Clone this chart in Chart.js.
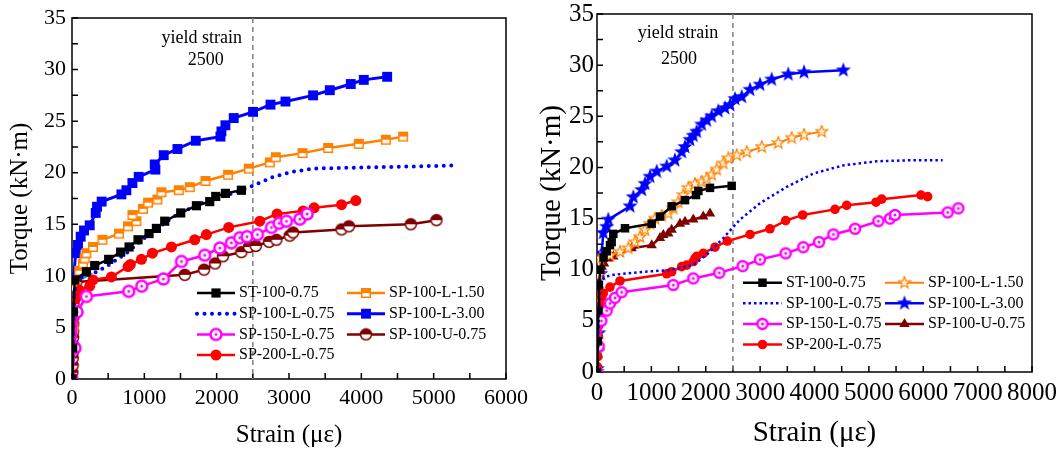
<!DOCTYPE html>
<html>
<head>
<meta charset="utf-8">
<script src="https://cdn.jsdelivr.net/npm/chart.js@4.4.1/dist/chart.umd.min.js"></script>
<style>
  html, body { margin: 0; padding: 0; background: #fff; }
  #wrap { position: relative; width: 1056px; height: 449px; overflow: hidden; }
  canvas { position: absolute; top: 0; }
  #left { left: 0; }
  #right { left: 528px; }
</style>
</head>
<body>
<div id="wrap">
  <canvas id="left" width="528" height="449"></canvas>
  <canvas id="right" width="528" height="449"></canvas>
</div>
<script>
// Torque vs strain, two panels. [strain, torque].

const YIELD_STRAIN = 2500;
const Y_MAX = 35;
const LEFT_X_MAX = 6000;
const RIGHT_X_MAX = 8000;

// ---- left panel ----
const L_ST_100_075 = [[0,0],[10,3],[20,6.5],[37,9.6],[199,10.4],[314,11.0],[507,11.6],[673,12.3],[789,12.8],[913,13.5],[1065,14.1],[1167,14.6],[1282,15.3],[1503,16.1],[1720,16.8],[1904,17.2],[1987,17.7],[2121,18.0],[2342,18.3]];
const L_SP_100_L_075 = [[0,0],[15,4],[30,8],[60,9.6],[150,9.9],[290,10.2],[476,10.9],[752,12.2],[1074,14.1],[1397,15.7],[1766,17.0],[2135,17.8],[2458,18.6],[2780,19.6],[3056,20.1],[3333,20.4],[3979,20.5],[4670,20.6],[5316,20.7]];
const L_SP_150_L_075 = [[0,0],[40,3],[70,6.5],[199,8.0],[784,8.5],[964,9.0],[1264,9.7],[1513,11.4],[1835,12.0],[2043,12.7],[2204,13.2],[2319,13.7],[2420,13.8],[2564,14.0],[2758,14.7],[2863,15.1],[2965,15.3],[3149,15.5],[3250,16.0]];
const L_SP_200_L_075 = [[0,0],[15,3],[30,6],[50,7.8],[106,8.6],[245,9.0],[290,9.6],[545,9.9],[775,10.9],[807,11.1],[960,11.6],[1112,12.2],[1375,12.8],[1697,13.5],[1858,14.0],[2167,14.7],[2596,15.3],[2835,16.0],[3195,16.3],[3347,16.6],[3726,16.9],[3924,17.3]];
const L_SP_100_L_150 = [[0,0],[20,5],[40,9],[100,10.5],[152,11.2],[176,11.7],[199,12.2],[290,12.8],[420,13.5],[650,14.1],[775,14.8],[890,15.3],[835,15.9],[982,16.5],[1051,17.1],[1181,17.4],[1236,18.1],[1476,18.3],[1628,18.6],[1845,19.2],[2158,19.8],[2444,20.4],[2734,21.0],[2817,21.5],[3187,21.9],[3541,22.4],[3965,22.8],[4339,23.2],[4578,23.5]];
const L_SP_100_L_300 = [[0,0],[8,3],[15,6],[23,9.9],[51,12.2],[83,13.0],[120,13.8],[166,14.4],[245,14.9],[328,16.1],[346,16.7],[410,17.2],[683,17.9],[752,18.3],[835,19.0],[922,19.6],[1153,20.3],[1144,20.8],[1268,21.7],[1458,22.3],[1711,23.1],[2052,23.5],[2066,24.0],[2121,24.6],[2236,25.3],[2503,25.9],[2744,26.6],[2951,26.9],[3333,27.5],[3564,28.0],[3854,28.6],[4034,29.0],[4357,29.3]];
const L_SP_100_U_075 = [[0,0],[5,0.6],[8,1.3],[10,2],[12,2.6],[14,3.3],[15,4],[16,4.6],[17,5.3],[18,6],[19,6.6],[20,7.3],[22,8],[24,8.6],[26,9.2],[60,9.4],[1559,10.1],[1826,10.6],[1978,11.2],[2088,11.9],[2342,12.3],[2448,12.8],[2541,12.9],[2725,13.3],[2826,13.5],[3010,13.9],[3056,14.2],[3726,14.5],[3827,14.8],[4684,15.0],[5039,15.4]];
const L_UNLABELLED = [[0,0],[10,2],[18,4.5],[25,7],[40,9.3],[199,10.2]];

// ---- right panel ----
const R_ST_100_075 = [[0,0],[15,3],[25,6],[35,8.5],[60,10],[120,11.2],[178,11.8],[239,12.4],[270,12.7],[300,13.5],[515,14.05],[1006,14.5],[1159,15.2],[1373,16.2],[1618,16.8],[1821,17.3],[1864,17.7],[2078,18.0],[2477,18.2]];
const R_SP_100_L_075 = [[0,0],[20,3],[40,6.5],[55,8.7],[147,9.3],[300,9.5],[852,9.8],[1343,9.96],[1771,10.45],[2047,11.6],[2323,13.1],[2630,14.9],[2998,16.5],[3489,18.1],[3978,19.4],[4530,20.2],[5144,20.6],[5756,20.7],[6357,20.7]];
const R_SP_150_L_075 = [[0,0],[30,2.5],[80,5],[178,6.0],[239,6.7],[331,7.25],[454,7.8],[1403,8.5],[1771,9.15],[2249,9.7],[2679,10.35],[2998,11.0],[3470,11.6],[3794,12.2],[4083,12.7],[4346,13.45],[4745,14.0],[5174,14.75],[5388,15.0],[5480,15.35],[6449,15.6],[6645,16.0]];
const R_SP_200_L_075 = [[0,0],[10,0.5],[15,1.5],[20,2.5],[25,3.5],[30,4.5],[40,5.5],[55,6.5],[80,7.3],[116,7.7],[239,8.3],[423,8.9],[1282,9.6],[1373,9.8],[1557,10.3],[1649,10.45],[1771,10.8],[1802,11.1],[1833,11.3],[1955,11.6],[2170,12.2],[2396,12.8],[2814,13.45],[3181,14.0],[3470,14.8],[3783,15.35],[4377,15.9],[4592,16.3],[5131,16.6],[5236,16.9],[5958,17.3],[6081,17.15]];
const R_SP_100_L_150 = [[0,0],[10,2],[20,4.5],[30,7],[40,9.5],[55,11.1],[239,11.4],[423,11.75],[576,12.1],[699,12.7],[791,13.2],[883,13.9],[975,14.5],[1067,15.0],[1190,15.3],[1311,15.5],[1403,16.0],[1495,16.6],[1587,17.3],[1679,18.0],[1802,18.4],[1925,18.6],[2017,18.9],[2109,19.3],[2201,19.8],[2323,20.4],[2415,20.9],[2569,21.2],[2753,21.5],[3029,22.0],[3334,22.4],[3580,22.9],[3807,23.2],[4132,23.5]];
const R_SP_100_L_300 = [[0,0],[5,0.3],[15,2],[30,3.8],[45,5.5],[55,7.0],[68,9.6],[86,11.6],[116,13.6],[178,14.2],[208,14.9],[607,16.2],[668,17.1],[822,17.8],[883,18.4],[975,19.1],[1098,19.6],[1282,20.1],[1434,20.7],[1558,21.5],[1618,22.0],[1710,22.7],[1771,23.1],[1833,23.5],[1925,24.2],[2017,24.6],[2109,25.0],[2231,25.5],[2354,25.8],[2446,26.1],[2538,26.7],[2661,26.9],[2814,27.6],[2998,28.1],[3212,28.6],[3518,29.1],[3807,29.3],[4530,29.5]];
const R_SP_100_U_075 = [[0,0],[10,3],[20,6],[30,8.5],[45,9.6],[86,10.3],[130,10.6],[208,11.1],[300,11.3],[638,12.1],[1006,12.4],[1159,13.1],[1220,13.4],[1311,13.55],[1373,13.9],[1526,14.5],[1618,14.7],[1771,14.9],[1955,15.2],[2078,15.5]];

const BLACK = '#000000', BLUE = '#0000ff', MAGENTA = '#ff00ff', RED = '#ff0000',
      ORANGE = '#ff8000', MAROON = '#800000', CYAN = '#1aa8c0';
const SERIF = '"Liberation Serif", "Times New Roman", serif';

const pts = arr => arr.map(([x, y]) => ({ x, y }));

// Small canvases used as point styles for the markers Chart.js lacks.
function marker(size, draw) {
  const c = document.createElement('canvas');
  c.width = size; c.height = size;
  draw(c.getContext('2d'), size / 2);
  return c;
}
function starPath(g, c, R, r) {
  g.beginPath();
  for (let i = 0; i < 10; i++) {
    const a = -Math.PI / 2 + i * Math.PI / 5;
    const d = i % 2 ? r : R;
    g.lineTo(c + d * Math.cos(a), c + d * Math.sin(a));
  }
  g.closePath();
}
const halfSquare = marker(12, (g) => {
  g.fillStyle = '#fff'; g.fillRect(1, 1, 10, 10);
  g.fillStyle = ORANGE; g.fillRect(1, 1, 10, 5);
  g.strokeStyle = ORANGE; g.lineWidth = 1.5; g.strokeRect(1.75, 1.75, 8.5, 8.5);
});
const halfCircle = marker(14, (g, c) => {
  g.beginPath(); g.arc(c, c, 5.5, 0, Math.PI * 2); g.fillStyle = '#fff'; g.fill();
  g.beginPath(); g.arc(c, c, 5.5, Math.PI, Math.PI * 2); g.fillStyle = MAROON; g.fill();
  g.beginPath(); g.arc(c, c, 5.5, 0, Math.PI * 2); g.strokeStyle = MAROON; g.lineWidth = 1.5; g.stroke();
});
const dotCircle = (R) => marker(16, (g, c) => {
  g.beginPath(); g.arc(c, c, R, 0, Math.PI * 2); g.fillStyle = '#fff'; g.fill();
  g.strokeStyle = MAGENTA; g.lineWidth = 2.5; g.stroke();
  g.beginPath(); g.arc(c, c, 1.5, 0, Math.PI * 2); g.fillStyle = MAGENTA; g.fill();
});
const blueStar = marker(18, (g, c) => {
  starPath(g, c, 8, 3.3); g.fillStyle = BLUE; g.fill();
});
const openStar = marker(14, (g, c) => {
  starPath(g, c, 6.2, 2.6); g.fillStyle = '#fff3dc'; g.fill();
  g.strokeStyle = ORANGE; g.lineWidth = 1.2; g.stroke();
});

// Dashed yield-strain line with its note.
const yieldLine = {
  id: 'yieldLine',
  beforeDatasetsDraw(chart, args, o) {
    const { ctx, chartArea: a, scales: { x } } = chart;
    const px = x.getPixelForValue(o.value);
    ctx.save();
    ctx.strokeStyle = '#808080'; ctx.lineWidth = 1.5; ctx.setLineDash([5, 4]);
    ctx.beginPath(); ctx.moveTo(px, a.top); ctx.lineTo(px, a.bottom); ctx.stroke();
    ctx.setLineDash([]);
    ctx.fillStyle = '#000'; ctx.font = o.font;
    ctx.textAlign = 'center'; ctx.textBaseline = 'middle';
    ctx.fillText('yield strain', px + o.dx1, a.top + o.dy1);
    ctx.fillText(String(o.value), px + o.dx2, a.top + o.dy2);
    ctx.restore();
  }
};

// Box round the plot plus inward major/minor ticks.
const frame = {
  id: 'frame',
  beforeDatasetsDraw(chart, args, o) {
    const { ctx, chartArea: a, scales: { x, y } } = chart;
    ctx.save();
    ctx.strokeStyle = '#000'; ctx.lineWidth = o.width;
    ctx.strokeRect(a.left, a.top, a.right - a.left, a.bottom - a.top);
    ctx.beginPath();
    for (let v = x.min; v <= x.max; v += o.minorX) {
      const p = x.getPixelForValue(v);
      ctx.moveTo(p, a.bottom); ctx.lineTo(p, a.bottom - o.tick);
    }
    for (let v = y.min; v <= y.max; v += o.minorY) {
      const p = y.getPixelForValue(v);
      ctx.moveTo(a.left, p); ctx.lineTo(a.left + o.tick, p);
    }
    ctx.stroke();
    ctx.restore();
  }
};

// Two-column legend inside the plot area.
const insideLegend = {
  id: 'insideLegend',
  afterDraw(chart, args, o) {
    const { ctx, chartArea: a } = chart;
    ctx.save();
    ctx.font = o.font; ctx.textAlign = 'left'; ctx.textBaseline = 'middle';
    chart.data.datasets.forEach(ds => {
      if (!ds.slot) return;
      const [c, r] = ds.slot;
      const x0 = a.left + o.cols[c], y0 = a.top + o.top + r * o.step;
      ctx.strokeStyle = ds.borderColor; ctx.lineWidth = ds.borderWidth;
      ctx.setLineDash(ds.borderDash || []); ctx.lineCap = ds.borderCapStyle || 'butt';
      ctx.beginPath(); ctx.moveTo(x0, y0); ctx.lineTo(x0 + o.lineLen, y0); ctx.stroke();
      ctx.setLineDash([]); ctx.lineCap = 'butt';
      if (ds.pointRadius > 0) {
        ctx.fillStyle = ds.pointBackgroundColor || ds.borderColor;
        ctx.strokeStyle = ds.pointBorderColor || ds.borderColor;
        ctx.lineWidth = ds.pointBorderWidth || 0;
        Chart.helpers.drawPoint(ctx, {
          pointStyle: ds.pointStyle, radius: ds.pointRadius,
          rotation: ds.pointRotation || 0, borderWidth: ds.pointBorderWidth || 0
        }, x0 + o.lineLen / 2, y0);
      }
      ctx.fillStyle = '#000';
      ctx.fillText(ds.label, x0 + o.lineLen + o.gap, y0);
    });
    ctx.restore();
  }
};

function line(label, data, color, width, extra) {
  return Object.assign({
    label, data: pts(data), borderColor: color, borderWidth: width,
    pointBackgroundColor: color, pointBorderColor: color, pointBorderWidth: 0,
    pointRadius: 0, fill: false, tension: 0
  }, extra);
}

function makeChart(canvas, p) {
  return new Chart(canvas, {
    type: 'line',
    data: { datasets: p.datasets },
    options: {
      responsive: false, animation: false, events: [],
      layout: { padding: p.padding },
      scales: {
        x: {
          type: 'linear', min: 0, max: p.xMax,
          grid: { display: false, drawTicks: false }, border: { display: false },
          ticks: {
            stepSize: 1000, autoSkip: false, maxRotation: 0, minRotation: 0,
            callback: v => String(v),
            color: '#000', padding: p.xTickPad, font: { family: SERIF, size: p.tickSize, lineHeight: 1.2 }
          },
          title: {
            display: true, text: 'Strain (με)', color: '#000',
            font: { family: SERIF, size: p.titleSize, lineHeight: 1 }, padding: { top: 0, bottom: p.xTitlePad }
          },
          afterFit(s) { s.height = p.xHeight; s.paddingLeft = 0; s.paddingRight = 0; }
        },
        y: {
          type: 'linear', min: 0, max: Y_MAX,
          grid: { display: false, drawTicks: false }, border: { display: false },
          ticks: {
            stepSize: 5, color: '#000', padding: p.yTickPad, callback: v => String(v),
            font: { family: SERIF, size: p.tickSize, lineHeight: 1.2 }
          },
          title: {
            display: true, text: 'Torque (kN·m)', color: '#000',
            font: { family: SERIF, size: p.titleSize, lineHeight: 1 }, padding: { top: p.yTitlePad, bottom: 0 }
          },
          afterFit(s) { s.width = p.yWidth; s.paddingTop = 0; s.paddingBottom = 0; }
        }
      },
      plugins: {
        legend: { display: false }, tooltip: { enabled: false },
        frame: { width: 1.5, tick: 6, minorX: 500, minorY: 2.5 },
        yieldLine: Object.assign({ value: YIELD_STRAIN, font: '18px ' + SERIF }, p.note),
        insideLegend: Object.assign({ font: '16px ' + SERIF, gap: 4 }, p.legend)
      }
    },
    plugins: [frame, yieldLine, insideLegend]
  });
}

makeChart(document.getElementById('left'), {
  xMax: LEFT_X_MAX,
  padding: { top: 18, right: 22, left: 0, bottom: 0 },
  xHeight: 70, yWidth: 72, tickSize: 22, titleSize: 25,
  xTickPad: 6, yTickPad: 6, xTitlePad: 1, yTitlePad: 8,
  note: { dx1: -51, dy1: 20, dx2: -47, dy2: 42 },
  legend: { cols: [125, 275], top: 275, step: 20.7, lineLen: 38 },
  datasets: [
    line('ST-100-0.75', L_ST_100_075, BLACK, 2.5, { pointStyle: 'rect', pointRadius: 6.5, slot: [0, 0] }),
    line('SP-100-L-0.75', L_SP_100_L_075, BLUE, 4, { borderDash: [0, 7.5], borderCapStyle: 'round', slot: [0, 1] }),
    line('SP-150-L-0.75', L_SP_150_L_075, MAGENTA, 2.5, { pointStyle: dotCircle(5.5), pointRadius: 6, slot: [0, 2] }),
    line('SP-200-L-0.75', L_SP_200_L_075, RED, 2.5, { pointStyle: 'circle', pointRadius: 5.5, slot: [0, 3] }),
    line('SP-100-L-1.50', L_SP_100_L_150, ORANGE, 2.5, { pointStyle: halfSquare, pointRadius: 6, slot: [1, 0] }),
    line('SP-100-L-3.00', L_SP_100_L_300, BLUE, 3, { pointStyle: 'rect', pointRadius: 7, slot: [1, 1] }),
    line('SP-100-U-0.75', L_SP_100_U_075, MAROON, 2.5, { pointStyle: halfCircle, pointRadius: 6, slot: [1, 2] }),
    line('', L_UNLABELLED, CYAN, 1.5, {
      pointStyle: 'triangle', pointRotation: 90,
      pointRadius: c => (c.dataIndex === c.dataset.data.length - 1 ? 7 : 0)
    })
  ]
});

makeChart(document.getElementById('right'), {
  xMax: RIGHT_X_MAX,
  padding: { top: 14, right: 24, left: 0, bottom: 0 },
  xHeight: 77, yWidth: 69, tickSize: 25, titleSize: 29,
  xTickPad: 6, yTickPad: 3, xTitlePad: 1.5, yTitlePad: 10,
  note: { dx1: -55, dy1: 19, dx2: -54, dy2: 45 },
  legend: { cols: [146, 288], top: 268.7, step: 20.6, lineLen: 39 },
  datasets: [
    line('ST-100-0.75', R_ST_100_075, BLACK, 2.5, { pointStyle: 'rect', pointRadius: 6, slot: [0, 0] }),
    line('SP-100-L-0.75', R_SP_100_L_075, BLUE, 2.5, { borderDash: [2.5, 3], slot: [0, 1] }),
    line('SP-150-L-0.75', R_SP_150_L_075, MAGENTA, 2.5, { pointStyle: dotCircle(5), pointRadius: 6, slot: [0, 2] }),
    line('SP-200-L-0.75', R_SP_200_L_075, RED, 2.5, { pointStyle: 'circle', pointRadius: 4.8, slot: [0, 3] }),
    line('SP-100-L-1.50', R_SP_100_L_150, ORANGE, 2, { pointStyle: openStar, pointRadius: 6, slot: [1, 0] }),
    line('SP-100-L-3.00', R_SP_100_L_300, BLUE, 2.5, { pointStyle: blueStar, pointRadius: 7, slot: [1, 1] }),
    line('SP-100-U-0.75', R_SP_100_U_075, MAROON, 2.5, { pointStyle: 'triangle', pointRadius: 6, slot: [1, 2] })
  ]
});
</script>
</body>
</html>
